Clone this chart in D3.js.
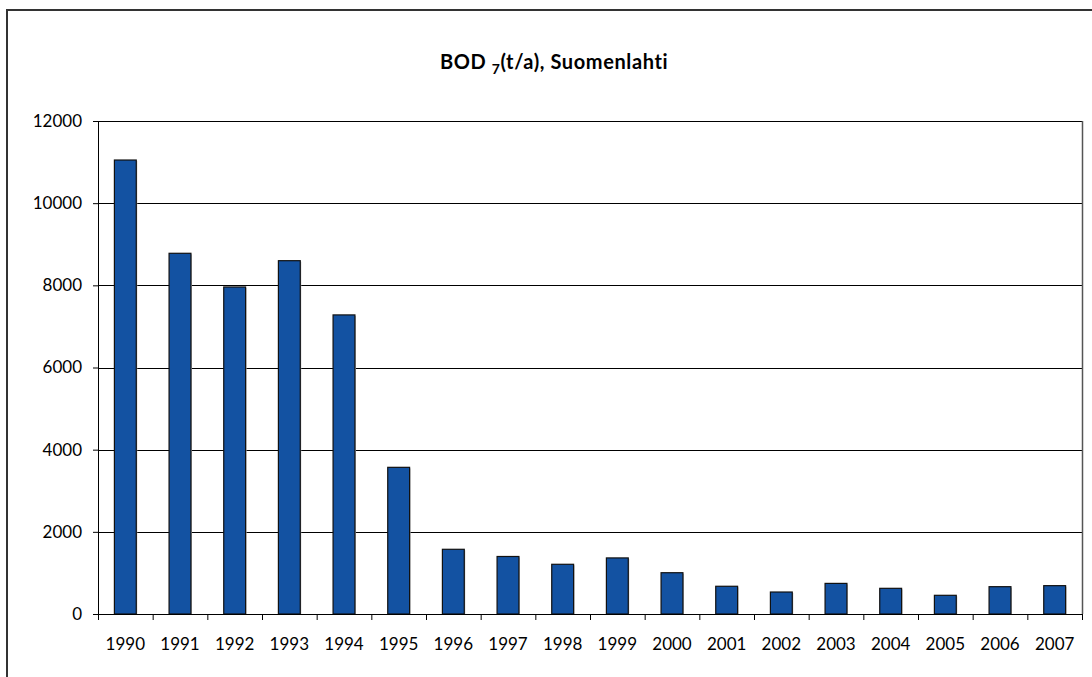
<!DOCTYPE html>
<html>
<head>
<meta charset="utf-8">
<script src="https://cdn.jsdelivr.net/npm/d3@7"></script>
<style>
  body { margin: 0; background: #fff; }
  svg { display: block; font-family: "Gill Sans", Lato, "Open Sans", sans-serif; }
</style>
</head>
<body>
<div id="chart"></div>
<script>
const years = ["1990", "1991", "1992", "1993", "1994", "1995", "1996", "1997", "1998",
  "1999", "2000", "2001", "2002", "2003", "2004", "2005", "2006", "2007"];
const bod7 = [11050, 8780, 7960, 8600, 7280, 3570, 1575, 1400, 1210,
  1365, 1005, 675, 535, 745, 625, 455, 665, 690];
const yTicks = [0, 2000, 4000, 6000, 8000, 10000, 12000];

const width = 1092, height = 677;
const margin = { top: 121, right: 10, bottom: 63, left: 98 };
const innerW = width - margin.left - margin.right;
const innerH = height - margin.top - margin.bottom;

const svg = d3.select("#chart").append("svg")
  .attr("width", width)
  .attr("height", height);

// outer chart frame (cropped at right and bottom)
svg.append("path")
  .attr("d", `M7,${height} L7,10 L${width},10`)
  .attr("fill", "none")
  .attr("stroke", "#333")
  .attr("stroke-width", 2);

// title
const title = svg.append("text")
  .attr("x", 554)
  .attr("y", 69)
  .attr("text-anchor", "middle")
  .style("font-size", "20px")
  .style("letter-spacing", "0.6px")
  .style("font-weight", "bold");
title.append("tspan").text("BOD ");
title.append("tspan").attr("dy", 5).style("font-size", "14px").text("7");
title.append("tspan").attr("dy", -5).text("(t/a), Suomenlahti");

const g = svg.append("g")
  .attr("transform", `translate(${margin.left},${margin.top})`);

const x = d3.scaleBand()
  .domain(years)
  .range([0, innerW])
  .paddingInner(0.6)
  .paddingOuter(0.3);

const y = d3.scaleLinear()
  .domain([0, 12000])
  .range([innerH, 0]);

// gridlines
g.append("g")
  .selectAll("line")
  .data(yTicks.filter(d => d > 0))
  .join("line")
  .attr("x1", 0)
  .attr("x2", innerW)
  .attr("y1", d => Math.round(y(d)) + 0.5)
  .attr("y2", d => Math.round(y(d)) + 0.5)
  .attr("stroke", "#000")
  .attr("stroke-width", 1);

// right border of plot area
g.append("line")
  .attr("x1", innerW + 0.5)
  .attr("x2", innerW + 0.5)
  .attr("y1", 0)
  .attr("y2", innerH)
  .attr("stroke", "#555")
  .attr("stroke-width", 1.5);

// bar shadows
g.append("g")
  .selectAll("rect")
  .data(bod7)
  .join("rect")
  .attr("x", (d, i) => x(years[i]) + 1)
  .attr("y", d => y(d) + 1)
  .attr("width", x.bandwidth())
  .attr("height", d => innerH - y(d))
  .attr("fill", "#bbb");

// bars
g.append("g")
  .selectAll("rect")
  .data(bod7)
  .join("rect")
  .attr("x", (d, i) => x(years[i]))
  .attr("y", d => y(d))
  .attr("width", x.bandwidth())
  .attr("height", d => innerH - y(d))
  .attr("fill", "#1352a2")
  .attr("stroke", "#111")
  .attr("stroke-width", 1.2);

// y axis
const yAxis = g.append("g")
  .call(d3.axisLeft(y).tickValues(yTicks).tickSize(5).tickPadding(11).tickFormat(d3.format("d")));
yAxis.select(".domain").attr("stroke", "#000");
yAxis.selectAll("text")
  .style("font-size", "17px")
  .style("font-family", "\"Gill Sans\", Lato, \"Open Sans\", sans-serif")
  .attr("fill", "#000");

// x axis: ticks at category boundaries
const xAxis = g.append("g")
  .attr("transform", `translate(0,${innerH})`);
xAxis.append("line")
  .attr("x1", 0).attr("x2", innerW)
  .attr("y1", 0.5).attr("y2", 0.5)
  .attr("stroke", "#000");
xAxis.selectAll(".xt")
  .data(d3.range(years.length + 1))
  .join("line")
  .attr("class", "xt")
  .attr("x1", i => i * innerW / years.length + 0.5)
  .attr("x2", i => i * innerW / years.length + 0.5)
  .attr("y1", 0)
  .attr("y2", 6)
  .attr("stroke", "#000");
xAxis.selectAll(".xl")
  .data(years)
  .join("text")
  .attr("class", "xl")
  .attr("x", d => x(d) + x.bandwidth() / 2)
  .attr("y", 36)
  .attr("text-anchor", "middle")
  .style("font-size", "17px")
  .text(d => d);
</script>
</body>
</html>
